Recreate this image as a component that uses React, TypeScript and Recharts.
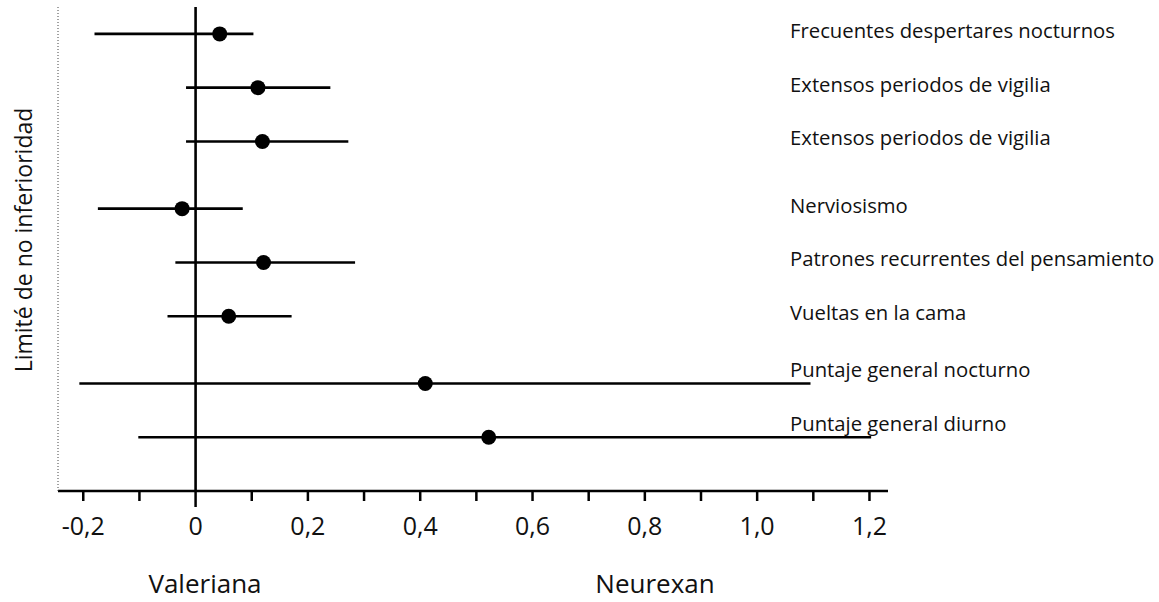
import React from "react";
import {
  ComposedChart,
  Scatter,
  ErrorBar,
  XAxis,
  YAxis,
  ReferenceLine,
} from "recharts";

const categories = [
  "Frecuentes despertares nocturnos",
  "Extensos periodos de vigilia",
  "Extensos periodos de vigilia",
  "Nerviosismo",
  "Patrones recurrentes del pensamiento",
  "Vueltas en la cama",
  "Puntaje general nocturno",
  "Puntaje general diurno",
];
const estimate = [0.043, 0.111, 0.119, -0.024, 0.121, 0.059, 0.409, 0.522];
const lower = [-0.18, -0.017, -0.017, -0.174, -0.036, -0.05, -0.207, -0.102];
const upper = [0.103, 0.24, 0.272, 0.084, 0.284, 0.171, 1.095, 1.203];
// vertical slot of each row (groups are spaced a bit wider)
const rowSlot = [0, 1, 2, 3.25, 4.25, 5.25, 6.5, 7.5];

const xTickValues = [-0.2, -0.1, 0, 0.1, 0.2, 0.3, 0.4, 0.5, 0.6, 0.7, 0.8, 0.9, 1.0, 1.1, 1.2];
const xTickLabels = ["-0,2", "", "0", "", "0,2", "", "0,4", "", "0,6", "", "0,8", "", "1,0", "", "1,2"];

const FONT = "'Open Sans', sans-serif";
const LABEL_X = 790;

const rows = categories.map((name, i) => ({
  name,
  est: estimate[i],
  slot: rowSlot[i],
  hi: upper[i],
  err: [estimate[i] - lower[i], upper[i] - estimate[i]],
}));

function XTick(props: any) {
  const { x, y, payload } = props;
  const idx = xTickValues.indexOf(payload.value);
  const label = idx >= 0 ? xTickLabels[idx] : "";
  const isZero = payload.value === 0;
  return (
    <g>
      <line x1={x} x2={x} y1={y - 10} y2={isZero ? y + 6 : y} stroke="#000" strokeWidth={2.5} />
      {label && (
        <text x={x} y={y + 34} textAnchor="middle" fontSize={25} fontFamily={FONT} fill="#111">
          {label}
        </text>
      )}
    </g>
  );
}

function RowMark(props: any) {
  const { cx, cy, payload } = props;
  // labels that would sit on top of a long bar are lifted above it
  const dy = payload.hi > 1 ? -6 : 4;
  return (
    <g>
      <circle cx={cx} cy={cy} r={7.5} fill="#000" />
      <text x={LABEL_X} y={cy + dy} fontSize={20.3} fontFamily={FONT} fill="#111">
        {payload.name}
      </text>
    </g>
  );
}

export default function App() {
  return (
    <div style={{ position: "absolute", left: 0, top: 0, width: 1159, height: 602 }}>
      <ComposedChart
        width={1159}
        height={602}
        data={rows}
        margin={{ top: 7, right: 271, bottom: 0, left: 0 }}
      >
        <XAxis
          type="number"
          dataKey="est"
          domain={[-0.245, 1.233]}
          ticks={xTickValues}
          interval={0}
          tickSize={10}
          tickMargin={0}
          tickLine={false}
          tick={XTick}
          axisLine={{ stroke: "#000", strokeWidth: 2.6 }}
          height={111}
        />
        <YAxis
          type="number"
          dataKey="slot"
          domain={[-0.5, 8.5]}
          reversed
          width={58}
          tick={false}
          tickLine={false}
          axisLine={{ stroke: "#444", strokeWidth: 1, strokeDasharray: "1 2" }}
        />
        <ReferenceLine x={0} stroke="#000" strokeWidth={2.6} />
        <Scatter data={rows} isAnimationActive={false} shape={RowMark}>
          <ErrorBar dataKey="err" direction="x" width={0} stroke="#000" strokeWidth={2.6} />
        </Scatter>
      </ComposedChart>
      <svg
        width={1159}
        height={602}
        style={{ position: "absolute", left: 0, top: 0, pointerEvents: "none" }}
      >
        <text
          transform="translate(32,240) rotate(-90)"
          textAnchor="middle"
          fontSize={23}
          fontFamily={FONT}
          fill="#111"
        >
          Limité de no inferioridad
        </text>
        <text x={205} y={593} textAnchor="middle" fontSize={26} fontFamily={FONT} fill="#111">
          Valeriana
        </text>
        <text x={655} y={593} textAnchor="middle" fontSize={26} fontFamily={FONT} fill="#111">
          Neurexan
        </text>
      </svg>
    </div>
  );
}
